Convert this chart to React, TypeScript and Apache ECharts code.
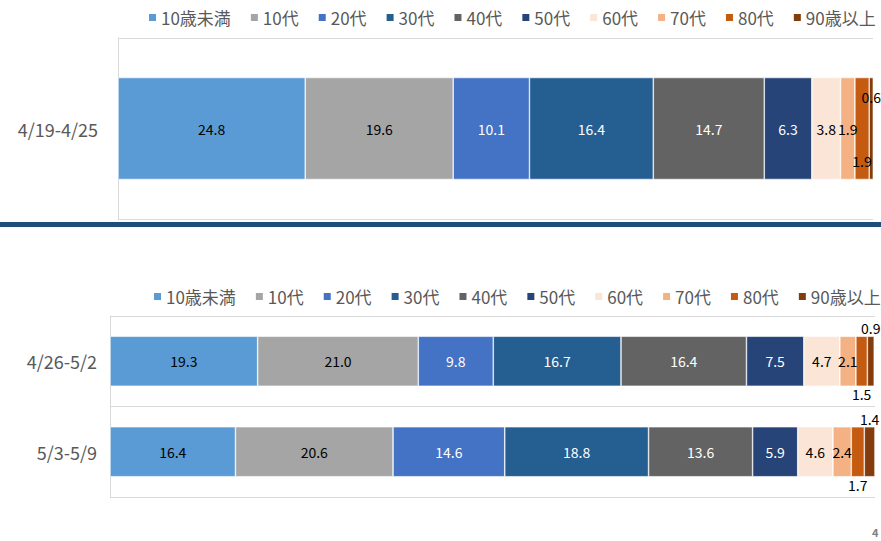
import React, { useEffect, useRef } from "react";
import * as echarts from "echarts";

const ageGroups = ["10歳未満", "10代", "20代", "30代", "40代", "50代", "60代", "70代", "80代", "90歳以上"];
const colors = ["#5b9bd5", "#a5a5a5", "#4472c4", "#255e91", "#636363", "#264478", "#fbe5d6", "#f4b183", "#c55a11", "#843c0c"];
const labelColors = ["#000", "#000", "#fff", "#fff", "#fff", "#fff", "#000", "#000", "#000", "#000"];

const topCategories = ["4/19-4/25"];
const topValues = [24.8, 19.6, 10.1, 16.4, 14.7, 6.3, 3.8, 1.9, 1.9, 0.6];

const bottomCategories = ["4/26-5/2", "5/3-5/9"];
const week1Values = [19.3, 21.0, 9.8, 16.7, 16.4, 7.5, 4.7, 2.1, 1.5, 0.9];
const week2Values = [16.4, 20.6, 14.6, 18.8, 13.6, 5.9, 4.6, 2.4, 1.7, 1.4];

const FONT = "'Noto Sans CJK JP', 'Noto Sans', sans-serif";

export default function App() {
  const ref = useRef<HTMLDivElement>(null);
  useEffect(() => {
    const chart = echarts.init(ref.current!, null, { renderer: "svg" });
    const series: any[] = [];
    ageGroups.forEach((name, i) => {
      let topLabel: any = { show: true, position: "inside" };
      if (i === 8) topLabel = { show: true, position: "insideBottom", distance: 12 };
      if (i === 9) topLabel = { show: true, position: "insideTop", distance: 12 };
      let botLabel: any = { show: true, position: "inside" };
      if (i === 8) botLabel = { show: true, position: "bottom", distance: 1 };
      if (i === 9) botLabel = { show: true, position: "top", distance: 1 };
      const common = {
        fontFamily: FONT,
        fontSize: 14,
        color: labelColors[i],
        formatter: (p: any) => Number(p.value).toFixed(1),
      };
      series.push({
        name,
        type: "bar",
        stack: "top",
        xAxisIndex: 0,
        yAxisIndex: 0,
        barWidth: 102,
        data: [topValues[i]],
        itemStyle: { color: colors[i], borderColor: "#ffffff", borderWidth: 0.6 },
        label: { ...common, ...topLabel },
      });
      series.push({
        name,
        type: "bar",
        stack: "bottom",
        xAxisIndex: 1,
        yAxisIndex: 1,
        barWidth: 50,
        data: [week1Values[i], week2Values[i]],
        itemStyle: { color: colors[i], borderColor: "#ffffff", borderWidth: 0.6 },
        label: { ...common, ...botLabel },
      });
    });

    const legendCommon = {
      data: ageGroups,
      itemWidth: 9,
      itemHeight: 9,
      itemGap: 18,
      icon: "rect",
      textStyle: { fontFamily: FONT, fontSize: 17, color: "#595959", padding: [0, 0, 0, -1] },
      selectedMode: false,
      padding: 0,
    };

    chart.setOption({
      animation: false,
      backgroundColor: "#ffffff",
      legend: [
        { ...legendCommon, left: 147, top: 9 },
        { ...legendCommon, left: 152, top: 288 },
      ],
      grid: [
        { left: 118, top: 38, width: 755, height: 181 },
        { left: 110, top: 316, width: 765, height: 181 },
      ],
      xAxis: [
        { type: "value", gridIndex: 0, min: 0, max: 100, show: false },
        { type: "value", gridIndex: 1, min: 0, max: 100, show: false },
      ],
      yAxis: [
        {
          type: "category",
          gridIndex: 0,
          data: topCategories,
          inverse: true,
          axisLine: { show: true, lineStyle: { color: "#d9d9d9" } },
          axisTick: { show: false },
          splitLine: { show: true, lineStyle: { color: "#d9d9d9" } },
          axisLabel: { fontFamily: FONT, fontSize: 18, color: "#595959", margin: 20 },
        },
        {
          type: "category",
          gridIndex: 1,
          data: bottomCategories,
          inverse: true,
          axisLine: { show: true, lineStyle: { color: "#d9d9d9" } },
          axisTick: { show: false },
          splitLine: { show: true, lineStyle: { color: "#d9d9d9" } },
          axisLabel: { fontFamily: FONT, fontSize: 18, color: "#595959", margin: 13 },
        },
      ],
      graphic: [
        { type: "rect", shape: { x: 0, y: 222, width: 881, height: 5 }, style: { fill: "#1f4e79" } },
        {
          type: "text",
          x: 872,
          y: 526,
          style: { text: "4", fontFamily: FONT, fontSize: 11, fontWeight: "bold", fill: "#7f7f7f" },
        },
      ],
      series,
    });
    return () => chart.dispose();
  }, []);
  return (
    <div
      ref={ref}
      style={{ position: "fixed", left: 0, top: 0, width: 881, height: 541, background: "#fff" }}
    />
  );
}
